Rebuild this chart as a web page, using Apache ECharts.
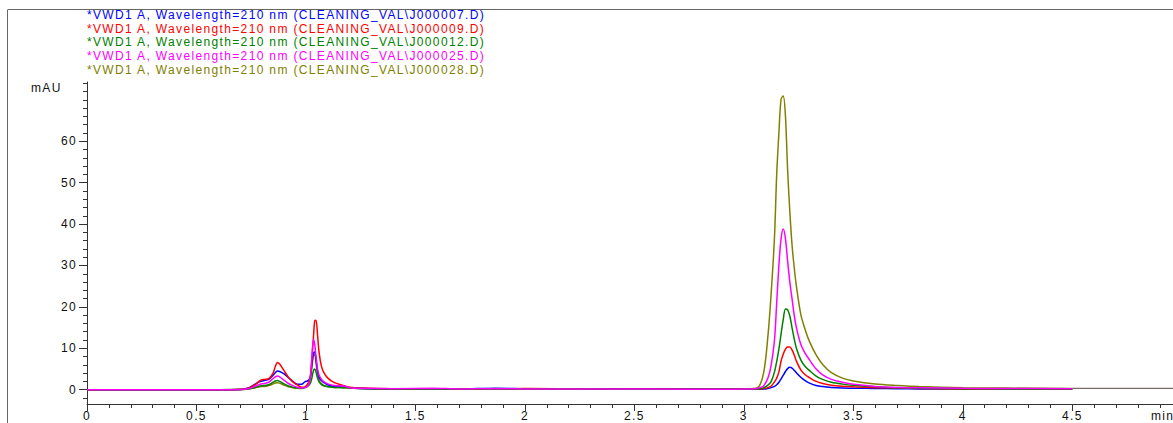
<!DOCTYPE html>
<html>
<head>
<meta charset="utf-8">
<script src="https://cdn.jsdelivr.net/npm/echarts@6/dist/echarts.min.js"></script>
<style>
html,body{margin:0;padding:0;background:#fff;}
#chart{width:1173px;height:423px;}
#chart svg text{letter-spacing:1.35px;}
</style>
</head>
<body>
<div id="chart"></div>
<script>
const seriesNames = [
  '*VWD1 A, Wavelength=210 nm (CLEANING_VAL\\J000007.D)',
  '*VWD1 A, Wavelength=210 nm (CLEANING_VAL\\J000009.D)',
  '*VWD1 A, Wavelength=210 nm (CLEANING_VAL\\J000012.D)',
  '*VWD1 A, Wavelength=210 nm (CLEANING_VAL\\J000025.D)',
  '*VWD1 A, Wavelength=210 nm (CLEANING_VAL\\J000028.D)'
];
const seriesColors = ['#0000ff', '#ff0000', '#008000', '#ff00ff', '#808000'];

// retention time (min)
const times = [
  0, 0.3, 0.6, 0.7, 0.74, 0.77, 0.79, 0.81, 0.83, 0.85,
  0.86, 0.87, 0.88, 0.9, 0.92, 0.94, 0.96, 0.98, 0.995, 1.01,
  1.02, 1.027, 1.034, 1.04, 1.046, 1.053, 1.06, 1.07, 1.08, 1.1,
  1.13, 1.17, 1.2, 1.25, 1.4, 1.58, 1.7, 1.87, 2.0, 2.3,
  2.6, 2.9, 3.0, 3.06, 3.09, 3.11, 3.125, 3.14, 3.15, 3.16,
  3.17, 3.18, 3.19, 3.2, 3.21, 3.22, 3.23, 3.24, 3.26, 3.28,
  3.3, 3.33, 3.36, 3.4, 3.45, 3.5, 3.6, 3.7, 3.8, 4.0,
  4.2, 4.5
];

// mAU values
const j07 = [
  0, 0, 0, 0.05, 0.5, 1.4, 2.0, 2.2, 2.5, 3.5,
  4.1, 4.5, 4.4, 3.8, 2.9, 2.0, 1.3, 1.3, 1.9, 2.2,
  3.0, 6.0, 8.8, 9.1, 7.2, 4.5, 3.0, 2.2, 1.8, 1.2,
  0.8, 0.9, 0.5, 0.3, 0.2, 0.2, 0.2, 0.35, 0.25, 0.2,
  0.25, 0.1, 0.1, 0.1, 0.15, 0.3, 0.5, 0.8, 1.2, 1.8,
  2.6, 3.5, 4.4, 5.1, 5.4, 5.2, 4.7, 4.1, 3.0, 2.2,
  1.6, 1.0, 0.75, 0.55, 0.4, 0.35, 0.3, 0.25, 0.2, 0.2,
  0.15, 0.15
];
const j09 = [
  0, 0, 0, 0.05, 0.4, 1.3, 2.2, 2.5, 2.7, 4.0,
  5.6, 6.6, 6.2, 4.6, 3.0, 1.9, 1.2, 0.6, 0.7, 1.6,
  3.2, 7.5, 12.5, 16.6, 16.8, 13.2, 9.0, 5.8, 4.3, 2.8,
  1.7, 1.0, 0.6, 0.4, 0.25, 0.25, 0.2, 0.2, 0.3, 0.2,
  0.15, 0.1, 0.1, 0.15, 0.3, 0.5, 0.9, 1.9, 2.8, 4.3,
  6.9, 8.6, 9.8, 10.3, 10.3, 9.6, 8.4, 6.9, 4.8, 3.6,
  2.9, 2.0, 1.5, 1.1, 0.85, 0.7, 0.5, 0.4, 0.3, 0.2,
  0.18, 0.15
];
const j12 = [
  0, 0, 0, 0.03, 0.2, 0.6, 0.9, 1.0, 1.2, 1.8,
  2.1, 2.2, 2.0, 1.4, 0.9, 0.6, 0.4, 0.35, 0.5, 0.9,
  1.6, 2.8, 4.6, 5.0, 4.3, 2.8, 1.9, 1.3, 0.95, 0.7,
  0.55, 0.5, 0.4, 0.3, 0.2, 0.2, 0.15, 0.2, 0.2, 0.15,
  0.1, 0.1, 0.1, 0.2, 0.45, 1.1, 2.0, 4.3, 6.8, 9.8,
  13.5, 17.0, 19.5, 19.3, 17.8, 15.0, 12.3, 10.0, 7.2, 5.6,
  4.6, 3.3, 2.5, 1.8, 1.35, 1.05, 0.7, 0.45, 0.35, 0.25,
  0.2, 0.15
];
const j25 = [
  0, 0, 0, 0.05, 0.3, 0.9, 1.3, 1.5, 1.8, 2.7,
  3.1, 3.3, 3.1, 2.3, 1.5, 1.0, 0.6, 0.4, 0.5, 1.0,
  3.0, 7.6, 12.1, 11.0, 8.0, 5.0, 3.5, 2.6, 2.0, 1.4,
  1.0, 0.9, 0.5, 0.35, 0.25, 0.35, 0.2, 0.25, 0.2, 0.15,
  0.15, 0.1, 0.15, 0.3, 0.9, 2.8, 6.0, 12.0, 21.0, 30.0,
  36.5, 38.8, 36.5, 31.0, 26.0, 22.0, 18.0, 15.0, 11.0, 8.8,
  7.2, 5.0, 3.6, 2.5, 1.8, 1.3, 0.8, 0.55, 0.45, 0.35,
  0.3, 0.25
];
const j28 = [
  0, 0, 0, 0.03, 0.2, 0.5, 0.7, 0.8, 1.0, 1.4,
  1.6, 1.7, 1.6, 1.1, 0.7, 0.5, 0.35, 0.3, 0.5, 1.2,
  2.8, 5.5, 8.2, 8.5, 6.5, 3.8, 2.3, 1.5, 1.1, 0.75,
  0.55, 0.5, 0.4, 0.3, 0.2, 0.2, 0.15, 0.2, 0.2, 0.15,
  0.1, 0.1, 0.2, 0.4, 4.0, 13.0, 23.5, 37.0, 52.0, 62.0,
  70.2, 70.9, 66.0, 53.0, 43.0, 35.0, 29.5, 25.0, 18.2, 14.5,
  11.6, 8.4, 6.1, 4.1, 2.8, 2.1, 1.35, 1.0, 0.75, 0.5,
  0.4, 0.3
];
// trailing baseline after the runs end
const tailTimes = [4.5, 4.96];
const tailValues = [0.3, 0.3];

const xMajorTicks = [0, 0.5, 1, 1.5, 2, 2.5, 3, 3.5, 4, 4.5];
const xMinorTicks = [0.1,0.2,0.3,0.4,0.6,0.7,0.8,0.9,1.1,1.2,1.3,1.4,1.6,1.7,1.8,1.9,2.1,2.2,2.3,2.4,2.6,2.7,2.8,2.9,3.1,3.2,3.3,3.4,3.6,3.7,3.8,3.9,4.1,4.2,4.3,4.4,4.6,4.7,4.8,4.9];
const yMajorTicks = [0, 10, 20, 30, 40, 50, 60];
const yMinorTicks = [-2,2,4,6,8,12,14,16,18,22,24,26,28,32,34,36,38,42,44,46,48,52,54,56,58,62,64,66,68,70,72,74];

const X_MIN = 0, X_MAX = 4.96, Y_MIN = -3.45, Y_MAX = 74.3;
const FONT = '"Liberation Sans", Arial, sans-serif';

const runs = [j07, j09, j12, j25, j28];
const drawOrder = [4, 0, 1, 2, 3];

const series = drawOrder.map(function (k) {
  return {
    name: seriesNames[k],
    type: 'line',
    xAxisIndex: 0, yAxisIndex: 0,
    showSymbol: false,
    silent: true,
    smooth: 0.3,
    lineStyle: { color: seriesColors[k], width: 1.5 },
    itemStyle: { color: seriesColors[k] },
    data: times.map(function (t, i) { return [t, runs[k][i]]; })
  };
});
series.push({
  name: 'tail',
  type: 'line',
  showSymbol: false,
  silent: true,
  lineStyle: { color: '#7a6c66', width: 1.2 },
  data: tailTimes.map(function (t, i) { return [t, tailValues[i]]; })
});

const chart = echarts.init(document.getElementById('chart'), null, { renderer: 'svg' });
chart.setOption({
  animation: false,
  backgroundColor: '#ffffff',
  grid: { left: 87, right: 0, top: 82, bottom: 19, containLabel: false },
  legend: {
    orient: 'vertical',
    left: 82, top: 9, padding: 0,
    itemWidth: 0, itemHeight: 12, itemGap: 1.7,
    icon: 'none',
    selectedMode: false,
    data: seriesNames.map(function (n, i) {
      return { name: n, icon: 'none', textStyle: { color: seriesColors[i] } };
    }),
    textStyle: { fontSize: 12, lineHeight: 12, fontFamily: FONT }
  },
  xAxis: [{
    type: 'value', min: X_MIN, max: X_MAX, position: 'bottom',
    axisLine: { show: true, onZero: false, lineStyle: { color: '#333', width: 1 } },
    axisTick: { show: true, customValues: xMajorTicks, length: 7, lineStyle: { color: '#333' } },
    axisLabel: { show: true, customValues: xMajorTicks, margin: 6, color: '#111', fontSize: 12, fontFamily: FONT,
      formatter: function (v) { return String(v); } },
    splitLine: { show: false }
  }, {
    type: 'value', min: X_MIN, max: X_MAX, position: 'bottom',
    axisLine: { show: false, onZero: false },
    axisTick: { show: true, customValues: xMinorTicks, length: 4, lineStyle: { color: '#333' } },
    axisLabel: { show: false },
    splitLine: { show: false }
  }],
  yAxis: [{
    type: 'value', min: Y_MIN, max: Y_MAX, position: 'left',
    axisLine: { show: true, onZero: false, lineStyle: { color: '#333', width: 1 } },
    axisTick: { show: true, customValues: yMajorTicks, length: 8, lineStyle: { color: '#333' } },
    axisLabel: { show: true, customValues: yMajorTicks, margin: 10, color: '#111', fontSize: 12, fontFamily: FONT },
    splitLine: { show: false }
  }, {
    type: 'value', min: Y_MIN, max: Y_MAX, position: 'left',
    axisLine: { show: false, onZero: false },
    axisTick: { show: true, customValues: yMinorTicks, length: 4, lineStyle: { color: '#333' } },
    axisLabel: { show: false },
    splitLine: { show: false }
  }],
  graphic: [
    { type: 'line', silent: true, shape: { x1: 8, y1: 9.5, x2: 1173, y2: 9.5 }, style: { stroke: '#666', lineWidth: 1 } },
    { type: 'line', silent: true, shape: { x1: 7.5, y1: 9.5, x2: 7.5, y2: 423 }, style: { stroke: '#666', lineWidth: 1 } },
    { type: 'text', silent: true, left: 31, top: 82, style: { text: 'mAU', fill: '#111', font: '12px ' + FONT } },
    { type: 'text', silent: true, left: 1151, top: 410, style: { text: 'min', fill: '#111', font: '12px ' + FONT } }
  ],
  series: series
});
</script>
</body>
</html>
